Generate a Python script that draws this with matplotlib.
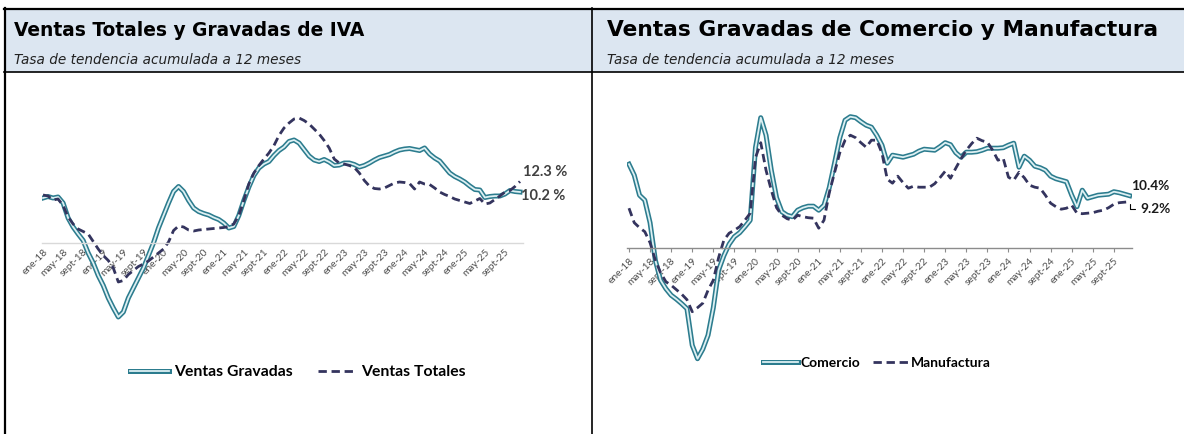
import matplotlib
matplotlib.use("Agg")
import matplotlib.pyplot as plt
import matplotlib.patheffects as pe
from matplotlib.patches import Rectangle
from matplotlib.lines import Line2D

# monthly labels ene-18 .. dic-25
mes = ["ene", "feb", "mar", "abr", "may", "jun", "jul", "ago", "sept", "oct", "nov", "dic"]
anios = ["18", "19", "20", "21", "22", "23", "24", "25"]
meses = [m + "-" + a for a in anios for m in mes]

ventas_gravadas = [
    9.0, 9.3, 9.0, 9.2, 8.0, 5.0, 3.2, 1.8, 0.5, -2.0, -4.0, -6.5,
    -8.5, -11.0, -13.0, -14.8, -13.8, -11.0, -9.0, -7.0, -5.0, -2.5, 0.0, 3.0,
    5.5, 8.0, 10.3, 11.3, 10.3, 8.5, 7.0, 6.3, 5.9, 5.6, 5.1, 4.7,
    4.0, 3.0, 3.3, 5.5, 8.5, 11.2, 13.5, 15.0, 15.8, 16.3, 17.5, 18.5,
    19.2, 20.3, 20.6, 20.0, 18.7, 17.4, 16.6, 16.3, 16.7, 16.2, 15.5, 15.6,
    16.0, 16.0, 15.7, 15.2, 15.5, 16.0, 16.6, 17.1, 17.4, 17.7, 18.2, 18.6,
    18.8, 18.9, 18.7, 18.5, 19.0, 17.8, 17.0, 16.4, 15.2, 14.0, 13.3, 12.8,
    12.2, 11.4, 10.7, 10.6, 9.1, 9.3, 9.4, 9.4, 9.8, 10.5, 10.3, 10.2,
]
ventas_totales = [
    9.6, 9.4, 8.6, 8.8, 7.5, 5.2, 3.8, 2.8, 2.3, 1.8, 0.3, -1.2,
    -2.5, -3.5, -5.0, -7.8, -7.5, -6.3, -5.5, -4.7, -4.2, -3.6, -2.8, -2.0,
    -1.2, 0.2, 2.5, 3.4, 3.2, 2.6, 2.4, 2.6, 2.7, 2.8, 2.9, 3.0,
    3.1, 3.3, 3.8, 5.5, 8.5, 11.8, 14.0, 15.5, 16.8, 18.0, 19.5, 21.5,
    23.0, 24.0, 24.8, 25.0, 24.5, 23.8, 22.8, 21.8, 20.5, 19.0, 16.8, 16.0,
    15.8, 15.5, 15.1, 14.0, 12.5, 11.4, 10.9, 10.8, 11.0, 11.5, 12.0, 12.2,
    12.1, 11.9, 10.8, 12.2, 11.8, 11.7, 11.0, 10.2, 9.7, 9.3, 8.8, 8.5,
    8.2, 7.9, 8.4, 8.9, 7.8, 8.0, 8.7, 9.4, 10.2, 10.5, 11.3, 12.3,
]
comercio = [
    16.7, 14.5, 10.5, 9.5, 5.0, -2.5, -6.5, -8.2, -9.5, -10.3, -11.2, -12.2,
    -19.5, -22.2, -20.3, -17.5, -12.0, -4.5, -1.6, 0.7, 2.2, 3.0, 4.2, 5.5,
    20.0, 26.0, 22.5, 15.5, 10.0, 7.2, 6.5, 6.2, 7.5, 8.0, 8.3, 8.3,
    7.5, 8.5, 12.0, 16.9, 22.0, 25.5, 26.2, 26.0, 25.2, 24.5, 24.1, 22.5,
    20.5, 16.9, 18.5, 18.3, 18.1, 18.4, 18.7, 19.3, 19.7, 19.6, 19.5, 20.2,
    21.0, 20.6, 19.0, 18.1, 19.1, 19.1, 19.2, 19.5, 19.9, 19.9, 19.9, 20.0,
    20.5, 20.9, 16.1, 18.3, 17.5, 16.3, 16.0, 15.5, 14.3, 13.8, 13.5, 13.2,
    10.5, 8.2, 11.5, 9.9, 10.2, 10.5, 10.6, 10.7, 11.2, 11.0, 10.7, 10.4,
]
manufactura = [
    7.9, 5.0, 4.0, 3.2, 1.0, -2.5, -5.0, -6.8, -7.5, -8.4, -9.3, -10.4,
    -12.8, -12.0, -11.1, -8.5, -6.5, -2.0, 1.5, 2.9, 3.5, 4.2, 5.5, 6.9,
    18.0, 21.0, 15.5, 11.5, 8.0, 6.5, 5.8, 5.5, 6.5, 6.2, 6.0, 5.9,
    3.9, 5.5, 11.0, 15.0, 19.0, 21.5, 22.5, 22.0, 21.0, 20.1, 21.5, 21.5,
    18.9, 13.7, 12.9, 14.3, 13.0, 11.9, 12.3, 12.1, 12.1, 12.1, 12.8, 14.0,
    15.3, 13.9, 15.9, 17.8, 19.5, 20.8, 21.9, 21.4, 21.1, 19.5, 17.5, 17.9,
    14.1, 13.5, 15.1, 14.0, 12.5, 12.1, 11.9, 10.5, 8.9, 8.2, 7.7, 7.9,
    8.5, 6.9, 6.8, 6.9, 7.0, 7.3, 7.5, 8.0, 8.7, 9.0, 9.1, 9.2,
]

W, H = 1184, 434
fig = plt.figure(figsize=(W / 100, H / 100), dpi=100)


def box(left, top, right, bottom):
    return [left / W, 1 - bottom / H, (right - left) / W, (bottom - top) / H]


teal = "#2C7C8E"
teal_in = "#DDF0F3"
navy = "#34345E"
solid_fx = [pe.Stroke(linewidth=3.6, foreground=teal), pe.Normal()]

# header band and frame
fig.patches.append(Rectangle((4 / W, 1 - 72 / H), 1, 63 / H, transform=fig.transFigure,
                             facecolor="#DCE6F1", edgecolor="none"))
for xs, ys, lw in [((4, W), (8.5, 8.5), 1.6), ((4, W), (72, 72), 1.2),
                   ((4.5, 4.5), (8, H), 1.6), ((592, 592), (8, H), 1.2)]:
    fig.add_artist(Line2D([x / W for x in xs], [1 - y / H for y in ys],
                          transform=fig.transFigure, color="black", lw=lw))

titulos = [("Ventas Totales y Gravadas de IVA", 14, 13.4),
           ("Ventas Gravadas de Comercio y Manufactura", 607, 15.7)]
for t, x0, fs in titulos:
    fig.text(x0 / W, 1 - 36 / H, t, fontsize=fs, fontweight="bold", family="DejaVu Sans",
             color="black", va="baseline")
    fig.text(x0 / W, 1 - 64 / H, "Tasa de tendencia acumulada a 12 meses", fontsize=9.8,
             style="italic", family="DejaVu Sans", color="#222222", va="baseline")

ticks = list(range(0, 96, 4))
etiquetas = [meses[i] for i in ticks]
x = list(range(96))

# left panel
ax1 = fig.add_axes(box(41.5, 93, 523, 343))
ax1.plot(x, ventas_gravadas, color=teal_in, lw=1.3, path_effects=solid_fx, label="Ventas Gravadas")
ax1.plot(x, ventas_totales, color=navy, lw=2.0, dashes=(3, 1.7), label="Ventas Totales")
ax1.set_xlim(-0.3, 95.6)
ax1.set_ylim(-20, 30)
ax1.annotate("12.3 %", (95, ventas_totales[-1]), xytext=(2, 7), textcoords="offset points",
             fontsize=10.5, fontweight="bold", color="#404040", family="Lato", va="center")
ax1.annotate("10.2 %", (95, ventas_gravadas[-1]), xytext=(1, -3), textcoords="offset points",
             fontsize=10.5, fontweight="bold", color="#404040", family="Lato", va="center")

# right panel
ax2 = fig.add_axes(box(627.4, 97.7, 1131.8, 372.7))
ax2.plot(x, comercio, color=teal_in, lw=1.3, path_effects=solid_fx, label="Comercio")
ax2.plot(x, manufactura, color=navy, lw=2.0, dashes=(3, 1.7), label="Manufactura")
ax2.set_xlim(-0.3, 95.4)
ax2.set_ylim(-25, 30)
ax2.annotate("10.4%", (95, comercio[-1]), xytext=(1, 7), textcoords="offset points",
             fontsize=9.8, fontweight="bold", color="#1a1a1a", family="Lato", va="center")
ax2.annotate("9.2%", (95, manufactura[-1]), xytext=(8, -5), textcoords="offset points",
             fontsize=9.8, fontweight="bold", color="#1a1a1a", family="Lato", va="center",
             arrowprops=dict(arrowstyle="-", color="black", lw=0.8, shrinkA=2, shrinkB=2,
                             connectionstyle="angle,angleA=0,angleB=90,rad=0"))

for ax, zc, tl in [(ax1, "#D9D9D9", 0), (ax2, "#8C8C8C", 3)]:
    ax.set_facecolor("none")
    for s in ["top", "right", "left"]:
        ax.spines[s].set_visible(False)
    ax.spines["bottom"].set_position(("data", 0))
    ax.spines["bottom"].set_color(zc)
    ax.spines["bottom"].set_linewidth(1.0)
    ax.set_yticks([])
    ax.set_xticks(ticks)
    ax.set_xticklabels(etiquetas, rotation=45, ha="right", rotation_mode="anchor",
                       fontsize=7.3, color="#4D4D4D", family="Lato")
    ax.tick_params(axis="x", length=tl, color=zc, pad=3)

fig.legend(handles=ax1.get_lines(), loc="center", bbox_to_anchor=(298 / W, 1 - 372 / H),
           ncol=2, frameon=False, handlelength=2.5, handletextpad=0.3, columnspacing=1.6,
           prop=dict(family="Lato", weight="bold", size=11.3))
fig.legend(handles=ax2.get_lines(), loc="center", bbox_to_anchor=(877 / W, 1 - 363 / H),
           ncol=2, frameon=False, handlelength=2.5, handletextpad=0.2, columnspacing=0.9,
           prop=dict(family="Lato", weight="bold", size=10))

fig.savefig("out.png", dpi=100, facecolor="white")
